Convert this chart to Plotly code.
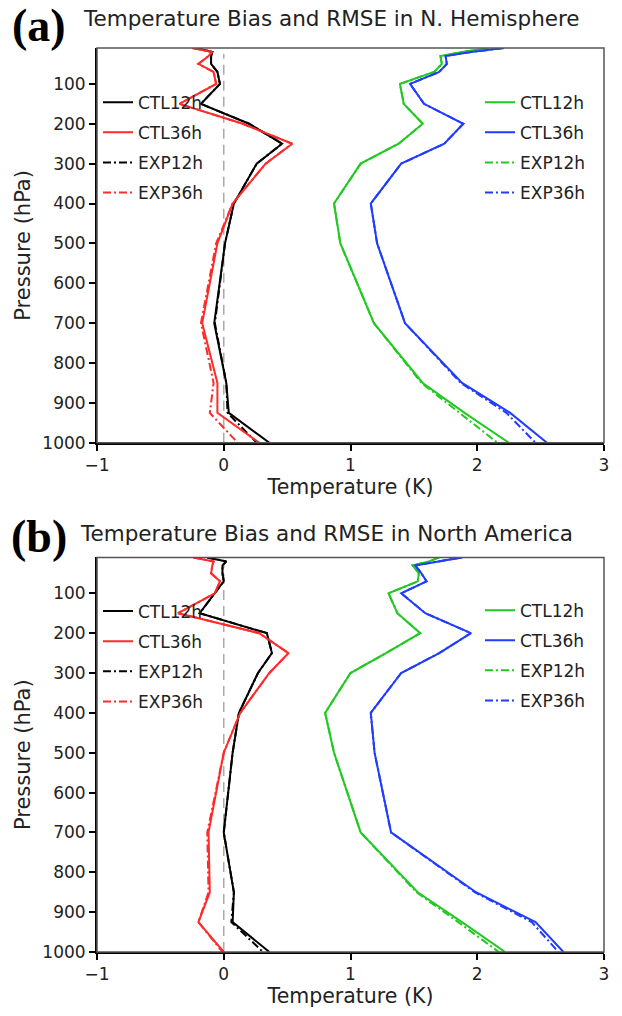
import plotly.graph_objects as go

# ---------------- data ----------------
P = [10, 20, 30, 50, 70, 100, 150, 200, 250, 300, 400, 500, 700, 850, 925, 1000]
x_ticks = [-1, 0, 1, 2, 3]
y_ticks = [100, 200, 300, 400, 500, 600, 700, 800, 900, 1000]

# Panel (a) N. Hemisphere : bias
a_bias_ctl12 = [-0.22, -0.09, -0.10, -0.10, -0.05, -0.03, -0.18, 0.20, 0.46, 0.26, 0.08, 0.01, -0.075, 0.02, 0.04, 0.36]
a_bias_ctl36 = [-0.25, -0.09, -0.12, -0.20, -0.08, -0.06, -0.35, 0.15, 0.54, 0.33, 0.07, -0.05, -0.17, -0.05, -0.05, 0.28]
a_bias_exp12 = [-0.22, -0.09, -0.10, -0.10, -0.05, -0.03, -0.18, 0.20, 0.46, 0.26, 0.08, 0.01, -0.07, 0.02, 0.03, 0.26]
a_bias_exp36 = [-0.25, -0.09, -0.12, -0.20, -0.08, -0.06, -0.35, 0.15, 0.54, 0.33, 0.07, -0.06, -0.18, -0.08, -0.11, 0.11]
# Panel (a) : RMSE
a_rmse_ctl12 = [2.09, 1.88, 1.71, 1.72, 1.66, 1.39, 1.42, 1.57, 1.38, 1.08, 0.87, 0.92, 1.185, 1.57, 1.90, 2.25]
a_rmse_ctl36 = [2.21, 1.95, 1.75, 1.76, 1.70, 1.47, 1.58, 1.89, 1.74, 1.40, 1.16, 1.21, 1.43, 1.88, 2.26, 2.55]
a_rmse_exp12 = [2.09, 1.88, 1.71, 1.72, 1.66, 1.39, 1.42, 1.57, 1.38, 1.08, 0.87, 0.92, 1.185, 1.56, 1.86, 2.16]
a_rmse_exp36 = [2.21, 1.95, 1.75, 1.76, 1.70, 1.47, 1.58, 1.89, 1.74, 1.40, 1.16, 1.21, 1.43, 1.87, 2.23, 2.46]

# Panel (b) North America : bias
b_bias_ctl12 = [-0.13, 0.02, -0.01, -0.01, 0.00, -0.07, -0.19, 0.34, 0.38, 0.27, 0.12, 0.07, 0.00, 0.08, 0.07, 0.36]
b_bias_ctl36 = [-0.24, -0.08, -0.09, -0.10, -0.03, -0.07, -0.36, 0.28, 0.51, 0.36, 0.13, 0.00, -0.12, -0.11, -0.20, 0.00]
b_bias_exp12 = [-0.13, 0.02, -0.01, -0.01, 0.00, -0.07, -0.19, 0.34, 0.38, 0.27, 0.12, 0.07, 0.00, 0.08, 0.06, 0.31]
b_bias_exp36 = [-0.24, -0.08, -0.09, -0.10, -0.03, -0.07, -0.36, 0.28, 0.51, 0.36, 0.13, 0.00, -0.13, -0.12, -0.20, -0.01]
# Panel (b) : RMSE
b_rmse_ctl12 = [1.70, 1.62, 1.49, 1.54, 1.53, 1.30, 1.37, 1.55, 1.28, 1.00, 0.80, 0.87, 1.08, 1.53, 1.88, 2.22]
b_rmse_ctl36 = [1.88, 1.70, 1.51, 1.56, 1.60, 1.40, 1.59, 1.95, 1.70, 1.40, 1.16, 1.19, 1.32, 1.99, 2.46, 2.68]
b_rmse_exp12 = [1.70, 1.62, 1.49, 1.54, 1.53, 1.30, 1.37, 1.55, 1.28, 1.00, 0.80, 0.87, 1.08, 1.52, 1.85, 2.17]
b_rmse_exp36 = [1.88, 1.70, 1.51, 1.56, 1.60, 1.40, 1.59, 1.95, 1.70, 1.40, 1.16, 1.19, 1.32, 1.98, 2.43, 2.64]

titles = ["Temperature Bias and RMSE in N. Hemisphere", "Temperature Bias and RMSE in North America"]
panel_labels = ["(a)", "(b)"]
names = ["CTL12h", "CTL36h", "EXP12h", "EXP36h"]

# ---------------- layout geometry ----------------
W, H = 622, 1016
L, R, T, B = 97, 18, 48, 55
PW, PH = W - L - R, H - T - B


def px(xp):
    return (xp - L) / PW


def py(yp):
    return 1 - (yp - T) / PH


dom_a = [py(446.7), 1.0]
dom_b = [0.0, py(562.5)]

BLACK = "#000000"
RED = "#ff2a2a"
GREEN = "#22c922"
BLUE = "#1f3cff"
DASHDOT = "8px,3px,2px,3px"
FONT = "DejaVu Sans"

fig = go.Figure()

panels = [
    ("x", "y", [a_bias_ctl12, a_bias_ctl36, a_bias_exp12, a_bias_exp36],
     [a_rmse_ctl12, a_rmse_ctl36, a_rmse_exp12, a_rmse_exp36], "legend", "legend2"),
    ("x2", "y2", [b_bias_ctl12, b_bias_ctl36, b_bias_exp12, b_bias_exp36],
     [b_rmse_ctl12, b_rmse_ctl36, b_rmse_exp12, b_rmse_exp36], "legend3", "legend4"),
]

for xa, ya, bias, rmse, leg_l, leg_r in panels:
    bias_cols = [BLACK, RED, BLACK, RED]
    rmse_cols = [GREEN, BLUE, GREEN, BLUE]
    dashes = ["solid", "solid", DASHDOT, DASHDOT]
    # draw EXP first then CTL on top
    for i in [2, 3, 0, 1]:
        fig.add_trace(go.Scatter(
            x=bias[i], y=P, mode="lines", name=names[i], xaxis=xa, yaxis=ya,
            line=dict(color=bias_cols[i], width=2, dash=dashes[i]),
            legend=leg_l, legendgroup=leg_l + names[i], legendrank=i + 1))
    for i in [2, 3, 0, 1]:
        fig.add_trace(go.Scatter(
            x=rmse[i], y=P, mode="lines", name=names[i], xaxis=xa, yaxis=ya,
            line=dict(color=rmse_cols[i], width=2, dash=dashes[i]),
            legend=leg_r, legendgroup=leg_r + names[i], legendrank=i + 1))

axis_common = dict(
    showgrid=False, zeroline=False, showline=True, linecolor="#000", linewidth=2,
    ticks="outside", ticklen=6, tickwidth=1.5, tickcolor="#000",
    tickfont=dict(family=FONT, size=17, color="#222"),
)

xcommon = dict(axis_common, range=[-1, 3], tickvals=x_ticks,
               title=dict(text="Temperature (K)", font=dict(family=FONT, size=20.5, color="#222"), standoff=5))
ycommon = dict(axis_common, range=[1000, 10], tickvals=y_ticks,
               title=dict(text="Pressure (hPa)", font=dict(family=FONT, size=21, color="#222"), standoff=6))

legend_common = dict(bgcolor="rgba(0,0,0,0)", font=dict(family=FONT, size=17, color="#222"),
                     tracegroupgap=5, itemwidth=30, xanchor="left", yanchor="top",
                     traceorder="grouped")

fig.update_layout(
    width=W, height=H, margin=dict(l=L, r=R, t=T, b=B),
    paper_bgcolor="white", plot_bgcolor="white",
    xaxis=dict(xcommon, anchor="y"),
    yaxis=dict(ycommon, domain=dom_a, anchor="x"),
    xaxis2=dict(xcommon, anchor="y2"),
    yaxis2=dict(ycommon, domain=dom_b, anchor="x2"),
    legend=dict(legend_common, x=px(98), y=py(85)),
    legend2=dict(legend_common, x=px(480), y=py(85)),
    legend3=dict(legend_common, x=px(98), y=py(599)),
    legend4=dict(legend_common, x=px(480), y=py(598)),
    showlegend=True,
)

# zero line + frame
for xa, ya in [("x", "y"), ("x2", "y2")]:
    fig.add_shape(type="line", xref=xa, yref=ya + " domain", x0=0, x1=0, y0=0, y1=0.985,
                  line=dict(color="#aaaaaa", width=1.5, dash="10px,6px"), layer="below")
    fig.add_shape(type="rect", xref=xa + " domain", yref=ya + " domain", x0=0, x1=1, y0=0, y1=1,
                  line=dict(color="#555555", width=1.5), layer="above")

# titles and panel labels
for k, (ty, tcx) in enumerate([(18, 331), (538, 326)]):
    fig.add_annotation(text=titles[k], xref="paper", yref="paper", x=px(tcx), y=py(ty),
                       xanchor="center", yanchor="middle", showarrow=False,
                       font=dict(family=FONT, size=21.5, color="#222"))
for k, ty in enumerate([25, 541]):
    fig.add_annotation(text="<b>" + panel_labels[k] + "</b>", xref="paper", yref="paper",
                       x=px(39), y=py(ty), xanchor="center", yanchor="middle", showarrow=False,
                       font=dict(family="Liberation Serif", size=46, color="#000"))

fig.write_html("out.html")
